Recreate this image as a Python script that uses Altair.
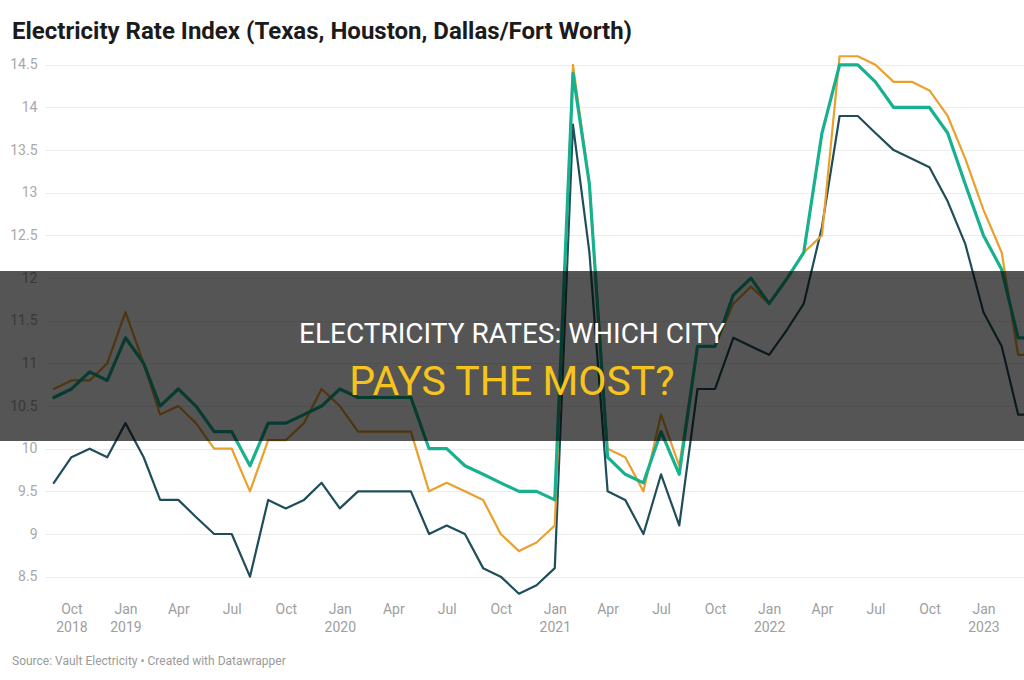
import altair as alt
import pandas as pd

# Monthly index values, Sep 2018 .. Apr 2023
months = pd.date_range("2018-09-01", "2023-04-01", freq="MS").strftime("%Y-%m-%d").tolist()

texas = [
    10.7, 10.8, 10.8, 11.0, 11.6, 11.0, 10.4, 10.5, 10.3, 10.0, 10.0, 9.5,
    10.1, 10.1, 10.3, 10.7, 10.5, 10.2, 10.2, 10.2, 10.2, 9.5, 9.6, 9.5,
    9.4, 9.0, 8.8, 8.9, 9.1, 14.5, 13.1, 10.0, 9.9, 9.5, 10.4, 9.8,
    11.2, 11.2, 11.7, 11.9, 11.7, 12.0, 12.3, 12.5, 14.6, 14.6, 14.5, 14.3,
    14.3, 14.2, 13.9, 13.4, 12.8, 12.3, 11.1, 11.1,
]
houston = [
    10.6, 10.7, 10.9, 10.8, 11.3, 11.0, 10.5, 10.7, 10.5, 10.2, 10.2, 9.8,
    10.3, 10.3, 10.4, 10.5, 10.7, 10.6, 10.6, 10.6, 10.6, 10.0, 10.0, 9.8,
    9.7, 9.6, 9.5, 9.5, 9.4, 14.4, 13.1, 9.9, 9.7, 9.6, 10.2, 9.7,
    11.2, 11.2, 11.8, 12.0, 11.7, 12.0, 12.3, 13.7, 14.5, 14.5, 14.3, 14.0,
    14.0, 14.0, 13.7, 13.1, 12.5, 12.1, 11.3, 11.3,
]
dallas_fort_worth = [
    9.6, 9.9, 10.0, 9.9, 10.3, 9.9, 9.4, 9.4, 9.2, 9.0, 9.0, 8.5,
    9.4, 9.3, 9.4, 9.6, 9.3, 9.5, 9.5, 9.5, 9.5, 9.0, 9.1, 9.0,
    8.6, 8.5, 8.3, 8.4, 8.6, 13.8, 12.3, 9.5, 9.4, 9.0, 9.7, 9.1,
    10.7, 10.7, 11.3, 11.2, 11.1, 11.4, 11.7, 12.6, 13.9, 13.9, 13.7, 13.5,
    13.4, 13.3, 12.9, 12.4, 11.6, 11.2, 10.4, 10.4,
]

series_names = ["Dallas/Fort Worth", "Texas", "Houston"]
series_colors = ["#1f4e5a", "#e9a02c", "#17b190"]
series_widths = [2.2, 2.2, 3.2]

y_ticks = [8.5, 9, 9.5, 10, 10.5, 11, 11.5, 12, 12.5, 13, 13.5, 14, 14.5]
x_ticks = [(2018, 10)] + [(y, m) for y in range(2019, 2023) for m in (1, 4, 7, 10)] + [(2023, 1)]

title_text = "Electricity Rate Index (Texas, Houston, Dallas/Fort Worth)"
source_text = "Source: Vault Electricity \u2022 Created with Datawrapper"
banner_line1 = "ELECTRICITY RATES: WHICH CITY"
banner_line2 = "PAYS THE MOST?"

values = {"Texas": texas, "Houston": houston, "Dallas/Fort Worth": dallas_fort_worth}
df = pd.DataFrame(
    [{"month": m, "series": s, "value": v}
     for s in series_names for m, v in zip(months, values[s])]
)

W, H = 979, 546

x_enc = alt.X(
    "month:T",
    scale=alt.Scale(
        type="utc",
        domain=[alt.DateTime(year=2018, month=8, date=17, utc=True),
                alt.DateTime(year=2023, month=3, date=11, utc=True)],
    ),
    axis=alt.Axis(
        values=[alt.DateTime(year=y, month=m, date=1, utc=True) for y, m in x_ticks],
        labelExpr=(
            "(utcmonth(datum.value) == 0 || (utcmonth(datum.value) == 9 && utcyear(datum.value) == 2018))"
            " ? [utcFormat(datum.value, '%b'), utcFormat(datum.value, '%Y')]"
            " : utcFormat(datum.value, '%b')"
        ),
        title=None, grid=False, domain=False, ticks=False,
        labelFont="Roboto", labelFontSize=14, labelColor="#9e9e9e",
        labelLineHeight=18, labelPadding=4, labelBaseline="top",
        labelOverlap=False, labelFlush=False,
    ),
)
y_enc = alt.Y(
    "value:Q",
    scale=alt.Scale(domain=[8.25, 14.65], nice=False, zero=False),
    axis=alt.Axis(
        values=y_ticks, format=".1~f", title=None, domain=False, ticks=False,
        gridColor="#ececec", gridWidth=1,
        labelFont="Roboto", labelFontSize=14, labelColor="#a8a8a8", labelPadding=8,
    ),
)

lines = []
for name, color, width in zip(series_names, series_colors, series_widths):
    lines.append(
        alt.Chart(df)
        .transform_filter(alt.datum.series == name)
        .mark_line(clip=True, color=color, strokeWidth=width, strokeJoin="round", strokeCap="round")
        .encode(x=x_enc, y=y_enc)
    )

one = pd.DataFrame({"k": [0]})

title = alt.Chart(pd.DataFrame({"t": [title_text]})).mark_text(
    align="left", baseline="alphabetic", font="Roboto", fontWeight="bold",
    fontSize=24, color="#1b1b1b",
).encode(x=alt.value(-33), y=alt.value(-13), text="t:N")

source = alt.Chart(pd.DataFrame({"t": [source_text]})).mark_text(
    align="left", baseline="middle", font="Roboto", fontSize=12, color="#9a9a9a",
).encode(x=alt.value(-33), y=alt.value(609), text="t:N")

banner = alt.Chart(one).mark_rect(color="#000000", opacity=0.665).encode(
    x=alt.value(-45), x2=alt.value(W), y=alt.value(219), y2=alt.value(389)
)

banner_t1 = alt.Chart(pd.DataFrame({"t": [banner_line1]})).mark_text(
    align="center", baseline="middle", font="Roboto",
    fontSize=28, color="#ffffff",
).encode(x=alt.value(467), y=alt.value(283), text="t:N")

banner_t2 = alt.Chart(pd.DataFrame({"t": [banner_line2]})).mark_text(
    align="center", baseline="middle", font="Roboto",
    fontSize=41, color="#f6c41c",
).encode(x=alt.value(467), y=alt.value(331), text="t:N")

chart = (
    alt.layer(*lines, banner, banner_t1, banner_t2, title, source)
    .properties(
        width=W, height=H,
        autosize=alt.AutoSizeParams(type="none"),
        padding={"left": 45, "top": 52, "right": 0, "bottom": 82},
        background="#ffffff",
    )
    .configure_view(stroke=None)
)

chart.save("out.html", embed_options={"renderer": "svg", "actions": False})
